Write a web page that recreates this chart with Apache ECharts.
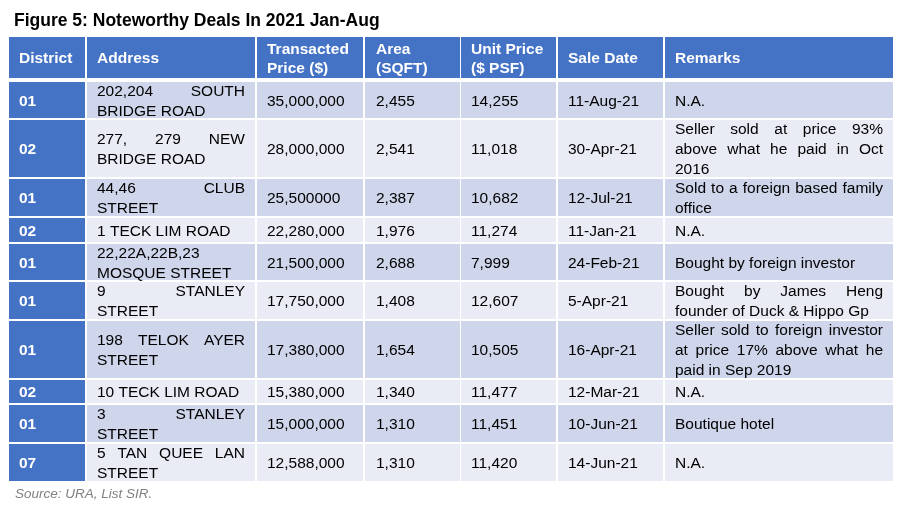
<!DOCTYPE html>
<html><head><meta charset="utf-8">
<script src="https://cdn.jsdelivr.net/npm/echarts@6/dist/echarts.min.js"></script>
<style>html,body{margin:0;padding:0;background:#fff}#c{width:904px;height:512px}</style>
</head><body><div id="c"></div>
<script>
// ---------- data ----------
const titleText = 'Figure 5: Noteworthy Deals In 2021 Jan-Aug';
const sourceText = 'Source: URA, List SIR.';
const headers = ['District', 'Address', 'Transacted\nPrice ($)', 'Area\n(SQFT)', 'Unit Price\n($ PSF)', 'Sale Date', 'Remarks'];
const districts = ['01', '02', '01', '02', '01', '01', '01', '02', '01', '07'];
const addresses = [
  '202,204 SOUTH\nBRIDGE ROAD',
  '277, 279 NEW\nBRIDGE ROAD',
  '44,46 CLUB\nSTREET',
  '1 TECK LIM ROAD',
  '22,22A,22B,23\nMOSQUE STREET',
  '9 STANLEY\nSTREET',
  '198 TELOK AYER\nSTREET',
  '10 TECK LIM ROAD',
  '3 STANLEY\nSTREET',
  '5 TAN QUEE LAN\nSTREET'
];
const prices = ['35,000,000', '28,000,000', '25,500000', '22,280,000', '21,500,000', '17,750,000', '17,380,000', '15,380,000', '15,000,000', '12,588,000'];
const areas = ['2,455', '2,541', '2,387', '1,976', '2,688', '1,408', '1,654', '1,340', '1,310', '1,310'];
const unitPrices = ['14,255', '11,018', '10,682', '11,274', '7,999', '12,607', '10,505', '11,477', '11,451', '11,420'];
const saleDates = ['11-Aug-21', '30-Apr-21', '12-Jul-21', '11-Jan-21', '24-Feb-21', '5-Apr-21', '16-Apr-21', '12-Mar-21', '10-Jun-21', '14-Jun-21'];
const remarks = [
  'N.A.',
  'Seller sold at price 93%\nabove what he paid in Oct\n2016',
  'Sold to a foreign based family\noffice',
  'N.A.',
  'Bought by foreign investor',
  'Bought by James Heng\nfounder of Duck & Hippo Gp',
  'Seller sold to foreign investor\nat price 17% above what he\npaid in Sep 2019',
  'N.A.',
  'Boutique hotel',
  'N.A.'
];
const columns = [districts, addresses, prices, areas, unitPrices, saleDates, remarks];

// ---------- layout ----------
const FONT = '"Liberation Sans", Arial, sans-serif';
const FS = 15.5;
const TEXT_DY = 1.5;
const colL = [9, 87, 257, 365, 461, 558, 665];
const colR = [85, 255, 363, 460, 556, 663, 893];
const textX = [19, 97, 267, 376, 471, 568, 675];
const justifyRight = {1: 245, 6: 883};
const headTop = 37, headBot = 78;
const rowTop = [82, 120, 179, 218, 244, 282, 321, 380, 405, 444];
const rowBot = [118, 177, 216, 242, 280, 319, 378, 403, 442, 481];
const BLUE = '#4472C4', DARK = '#CFD5EA', LIGHT = '#E9EBF5';

const mctx = document.createElement('canvas').getContext('2d');
function measure(t, bold) {
  mctx.font = (bold ? 'bold ' : '') + FS + 'px ' + FONT;
  return mctx.measureText(t).width;
}

const cells = [];
for (let c = 0; c < headers.length; c++) {
  cells.push([c, -1]);
  for (let r = 0; r < districts.length; r++) cells.push([c, r]);
}

function renderItem(params, api) {
  const c = api.value(0), r = api.value(1);
  const top = r < 0 ? headTop : rowTop[r];
  const bot = r < 0 ? headBot : rowBot[r];
  const p1 = api.coord([colL[c], top]);
  const p2 = api.coord([colR[c], bot]);
  let fill;
  if (r < 0 || c === 0) fill = BLUE; else fill = (r % 2 === 0) ? DARK : LIGHT;
  const bold = r < 0 || c === 0;
  const color = bold ? '#fff' : '#000';
  const str = r < 0 ? headers[c] : columns[c][r];
  const lines = str.split('\n');
  const lh = r < 0 ? 19 : 20;
  const cy = (p1[1] + p2[1]) / 2 + TEXT_DY;
  const children = [{
    type: 'rect',
    shape: {x: p1[0], y: p1[1], width: p2[0] - p1[0], height: p2[1] - p1[1]},
    style: {fill: fill}
  }];
  const x0 = api.coord([textX[c], top])[0];
  lines.forEach(function (ln, i) {
    const y = cy - (lines.length - 1) * lh / 2 + i * lh;
    const words = ln.split(' ');
    const jr = justifyRight[c];
    if (r >= 0 && jr !== undefined && i < lines.length - 1 && words.length > 1) {
      const xr = api.coord([jr, top])[0];
      const ws = words.map(function (w) { return measure(w, bold); });
      const sum = ws.reduce(function (a, b) { return a + b; }, 0);
      const gap = (xr - x0 - sum) / (words.length - 1);
      let x = x0;
      words.forEach(function (w, k) {
        children.push({type: 'text', style: {text: w, x: x, y: y, fill: color,
          font: (bold ? 'bold ' : '') + FS + 'px ' + FONT, verticalAlign: 'middle', align: 'left'}});
        x += ws[k] + gap;
      });
    } else {
      children.push({type: 'text', style: {text: ln, x: x0, y: y, fill: color,
        font: (bold ? 'bold ' : '') + FS + 'px ' + FONT, verticalAlign: 'middle', align: 'left'}});
    }
  });
  return {type: 'group', children: children};
}

const chart = echarts.init(document.getElementById('c'), null, {renderer: 'canvas'});
chart.setOption({
  animation: false,
  backgroundColor: '#fff',
  title: [
    {text: titleText, left: 14, top: 11, padding: 0,
      textStyle: {fontFamily: FONT, fontSize: 17.5, fontWeight: 'bold', color: '#000', lineHeight: 20}},
    {text: sourceText, left: 15, top: 486, padding: 0,
      textStyle: {fontFamily: FONT, fontSize: 13.5, fontStyle: 'italic', fontWeight: 'normal', color: '#808080', lineHeight: 16}}
  ],
  grid: {left: 0, right: 0, top: 0, bottom: 0},
  xAxis: {type: 'value', min: 0, max: 904, show: false},
  yAxis: {type: 'value', min: 0, max: 512, inverse: true, show: false},
  series: [{
    type: 'custom',
    renderItem: renderItem,
    data: cells,
    silent: true
  }]
});
</script>
</body></html>
